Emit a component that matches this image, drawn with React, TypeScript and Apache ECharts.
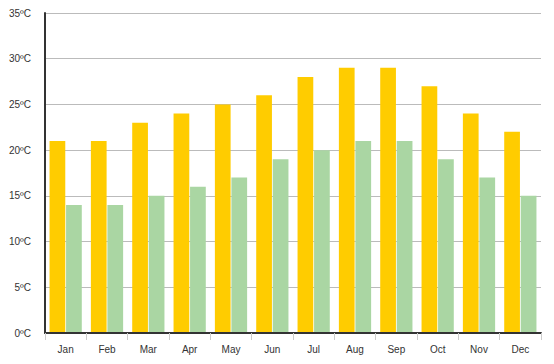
import React, { useEffect, useRef } from "react";
import * as echarts from "echarts";

const months = ["Jan", "Feb", "Mar", "Apr", "May", "Jun", "Jul", "Aug", "Sep", "Oct", "Nov", "Dec"];
const maxTemps = [21, 21, 23, 24, 25, 26, 28, 29, 29, 27, 24, 22];
const minTemps = [14, 14, 15, 16, 17, 19, 20, 21, 21, 19, 17, 15];

export default function App() {
  const ref = useRef<HTMLDivElement>(null);
  useEffect(() => {
    const chart = echarts.init(ref.current!, null, { renderer: "svg" });
    chart.setOption({
      animation: false,
      grid: { left: 45, right: 13, top: 13, bottom: 31, containLabel: false },
      xAxis: {
        type: "category",
        data: months,
        z: 5,
        axisLine: { lineStyle: { color: "#333", width: 2 } },
        axisTick: { show: true, length: 7, lineStyle: { color: "#ccc" } },
        axisLabel: { color: "#333", fontSize: 10, fontFamily: "Liberation Sans, Arial", margin: 11 },
        splitLine: { show: false },
      },
      yAxis: {
        type: "value",
        min: 0,
        max: 35,
        interval: 5,
        axisLine: { show: true, lineStyle: { color: "#333", width: 2 } },
        axisTick: { show: false },
        axisLabel: {
          color: "#333",
          fontSize: 10,
          fontFamily: "Liberation Sans, Arial",
          margin: 14,
          formatter: (v: number) => v + "ºC",
        },
        splitLine: { show: true, lineStyle: { color: "#bbb", width: 1 } },
      },
      series: [
        {
          type: "bar",
          data: maxTemps,
          itemStyle: { color: "#FFCC00" },
          barGap: "5%",
          barCategoryGap: "22%",
          z: 2,
        },
        {
          type: "bar",
          data: minTemps,
          itemStyle: { color: "#AAD6A3" },
          z: 2,
        },
      ],
    });
    return () => chart.dispose();
  }, []);
  return <div ref={ref} style={{ width: 554, height: 364, position: "absolute", left: 0, top: 0, background: "#fff" }} />;
}
